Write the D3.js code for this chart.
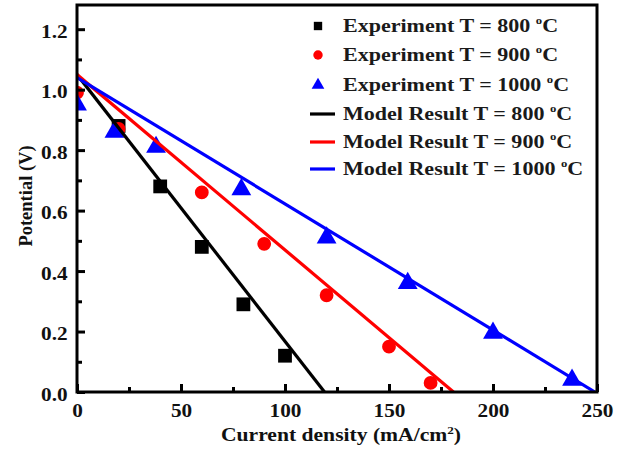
<!DOCTYPE html>
<html><head><meta charset="utf-8">
<script src="https://cdn.jsdelivr.net/npm/d3@7"></script>
<style>body{margin:0;background:#fff}svg{display:block}</style>
</head><body>
<svg id="c" width="624" height="450"></svg>
<script>
const xTicks = [0, 50, 100, 150, 200, 250];
const yTicks = [0.0, 0.2, 0.4, 0.6, 0.8, 1.0, 1.2];
const exp800 = [[20,0.88],[40,0.68],[60,0.48],[80,0.29],[100,0.12]];
const exp900 = [[0,0.99],[20,0.87],[60,0.66],[90,0.49],[120,0.32],[150,0.15],[170,0.03]];
const exp1000 = [[0,0.95],[18,0.86],[38,0.81],[79,0.67],[120,0.51],[159,0.36],[200,0.195],[238,0.04]];
const model800 = [[0,1.05],[119,0]];
const model900 = [[0,1.05],[181,0]];
const model1000 = [[0,1.04],[249,0]];
const legendLabels = ["Experiment T = 800 ","Experiment T = 900 ","Experiment T = 1000 ","Model Result T = 800 ","Model Result T = 900 ","Model Result T = 1000 "];
const colors = ["#000000","#ff0000","#0000ff"];

const svg = d3.select("#c");
const L=77, R=597, T=5, B=392;
const x = d3.scaleLinear().domain([0,250]).range([L,R]);
const y = d3.scaleLinear().domain([0,1.28]).range([B,T]);
const font = "'Liberation Serif','Times New Roman',serif";
const SX = 1.18;

svg.append("defs").append("clipPath").attr("id","clip").append("rect")
  .attr("x",L).attr("y",T).attr("width",R-L).attr("height",B-T);

// markers
const sym = [d3.symbolSquare, d3.symbolCircle, d3.symbolTriangle];
const sizes = [190, 150, 170];
const plot = svg.append("g").attr("clip-path","url(#clip)");
[exp800,exp900,exp1000].forEach((data,i)=>{
  plot.append("g").selectAll("path").data(data).join("path")
    .attr("transform",d=>`translate(${x(d[0])},${y(d[1])})`)
    .attr("d",d3.symbol().type(sym[i]).size(sizes[i]))
    .attr("fill",colors[i]);
});
// model lines
const line = d3.line().x(d=>x(d[0])).y(d=>y(d[1]));
[model800,model900,model1000].forEach((data,i)=>{
  plot.append("path").datum(data).attr("d",line).attr("fill","none")
    .attr("stroke",colors[i]).attr("stroke-width",3.2);
});

// frame
svg.append("rect").attr("x",L).attr("y",T).attr("width",R-L).attr("height",B-T)
  .attr("fill","none").attr("stroke","#000").attr("stroke-width",3);

// axes with inward ticks
const gx = svg.append("g").attr("transform",`translate(0,${B})`)
  .call(d3.axisBottom(x).tickValues(xTicks).tickSize(-8).tickPadding(12).tickFormat(d3.format("d")));
const gxm = svg.append("g").attr("transform",`translate(0,${B})`)
  .call(d3.axisBottom(x).tickValues([25,75,125,175,225]).tickSize(-5).tickFormat(""));
const gy = svg.append("g").attr("transform",`translate(${L},0)`)
  .call(d3.axisLeft(y).tickValues(yTicks).tickSize(-8).tickPadding(8).tickFormat(d3.format(".1f")));
const gym = svg.append("g").attr("transform",`translate(${L},0)`)
  .call(d3.axisLeft(y).tickValues([0.1,0.3,0.5,0.7,0.9,1.1]).tickSize(-5).tickFormat(""));
[gx,gxm,gy,gym].forEach(g=>{
  g.select(".domain").remove();
  g.selectAll(".tick line").attr("stroke","#000").attr("stroke-width",3);
  g.selectAll("text").attr("font-family",font).attr("font-weight","bold").attr("font-size",18)
    .attr("fill","#111").attr("transform",`scale(${SX},1)`);
});
gy.selectAll("text").attr("dy","0.45em");

// legend
const rowsY = [26,55,85,114,142,169];
legendLabels.forEach((lab,i)=>{
  const yy = rowsY[i];
  if(i<3){
    svg.append("path").attr("transform",`translate(318,${yy})`)
      .attr("d",d3.symbol().type(sym[i]).size(70)).attr("fill",colors[i]);
  } else {
    svg.append("line").attr("x1",310).attr("x2",335).attr("y1",yy).attr("y2",yy)
      .attr("stroke",colors[i-3]).attr("stroke-width",3.2);
  }
  const t = svg.append("text").attr("transform",`translate(343,${yy+6}) scale(1.16,1)`)
    .attr("font-family",font).attr("font-weight","bold").attr("font-size",19).attr("fill","#1a1a1a");
  t.append("tspan").text(lab);
  t.append("tspan").text("o").attr("font-size",11).attr("dy",-8);
  t.append("tspan").text("C").attr("dy",8);
});

// axis titles
const xt = svg.append("text").attr("transform",`translate(${(L+R)/2+4},441) scale(1.2,1)`).attr("text-anchor","middle")
  .attr("font-family",font).attr("font-weight","bold").attr("font-size",18).attr("fill","#111");
xt.append("tspan").text("Current density (mA/cm");
xt.append("tspan").text("2").attr("font-size",11).attr("dy",-7);
xt.append("tspan").text(")").attr("dy",7);
svg.append("text").attr("transform",`translate(32,196) rotate(-90)`).attr("text-anchor","middle")
  .attr("font-family",font).attr("font-weight","bold").attr("font-size",18.5).attr("fill","#111")
  .text("Potential (V)");
</script>
</body></html>
